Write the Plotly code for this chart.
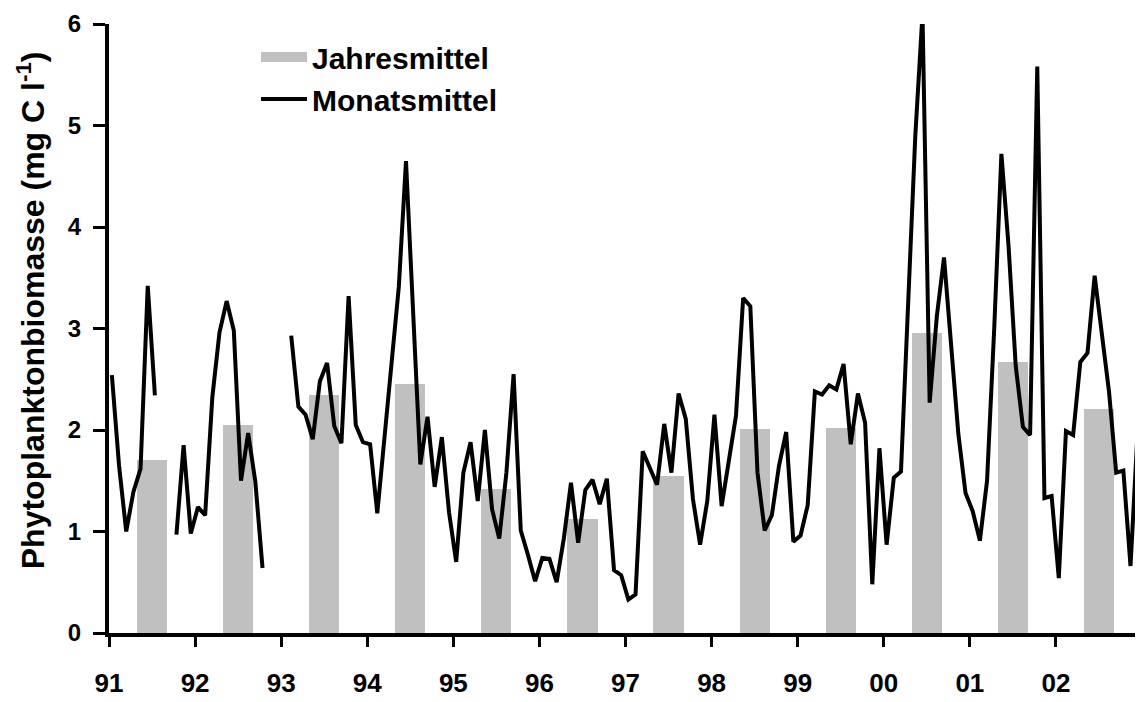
import plotly.graph_objects as go

year_labels = ["91", "92", "93", "94", "95", "96", "97", "98", "99", "00", "01", "02"]
annual_means = [1.70, 2.05, 2.34, 2.45, 1.42, 1.12, 1.55, 2.01, 2.02, 2.96, 2.67, 2.21]

monthly_91 = [2.54, 1.65, 1.00, 1.39, 1.62, 3.42, 2.34, None, None, 0.97, 1.85, 0.98]
monthly_92 = [1.24, 1.16, 2.32, 2.96, 3.27, 2.98, 1.50, 1.97, 1.49, 0.64, None, None]
monthly_93 = [None, 2.93, 2.23, 2.15, 1.91, 2.48, 2.66, 2.04, 1.87, 3.32, 2.05, 1.88]
monthly_94 = [1.86, 1.18, 1.95, 2.70, 3.41, 4.65, 3.10, 1.66, 2.13, 1.44, 1.93, 1.19]
monthly_95 = [0.70, 1.58, 1.88, 1.30, 2.00, 1.22, 0.93, 1.58, 2.55, 1.01, 0.77, 0.51]
monthly_96 = [0.74, 0.73, 0.50, 0.93, 1.48, 0.89, 1.41, 1.51, 1.27, 1.52, 0.62, 0.57]
monthly_97 = [0.33, 0.38, 1.79, 1.63, 1.46, 2.06, 1.58, 2.36, 2.11, 1.32, 0.87, 1.30]
monthly_98 = [2.15, 1.25, 1.69, 2.14, 3.30, 3.22, 1.58, 1.01, 1.16, 1.65, 1.98, 0.90]
monthly_99 = [0.96, 1.26, 2.38, 2.35, 2.44, 2.40, 2.65, 1.86, 2.36, 2.07, 0.48, 1.82]
monthly_00 = [0.87, 1.53, 1.59, 3.30, 4.90, 6.10, 2.27, 3.12, 3.70, 2.83, 1.96, 1.38]
monthly_01 = [1.20, 0.91, 1.50, 3.00, 4.72, 3.81, 2.63, 2.03, 1.95, 5.58, 1.33, 1.35]
monthly_02 = [0.54, 1.99, 1.95, 2.67, 2.76, 3.52, 2.97, 2.38, 1.58, 1.60, 0.66, 2.01]

monthly = (monthly_91 + monthly_92 + monthly_93 + monthly_94 + monthly_95 + monthly_96
           + monthly_97 + monthly_98 + monthly_99 + monthly_00 + monthly_01 + monthly_02)

n_years = len(year_labels)
month_x = [i + 0.4 for i in range(len(monthly))]
bar_x = [12 * k + 6 for k in range(n_years)]

font_family = "Liberation Sans, Arial, sans-serif"
bar_color = "#c0c0c0"

fig = go.Figure()
fig.add_trace(go.Bar(
    x=bar_x, y=annual_means, width=4.2,
    marker=dict(color=bar_color, line=dict(width=0)),
    name="Jahresmittel", showlegend=False,
))
# legend proxy giving the wide rectangular swatch of the original legend
fig.add_trace(go.Scatter(
    x=[None], y=[None], mode="lines",
    line=dict(color=bar_color, width=19),
    name="Jahresmittel",
))
fig.add_trace(go.Scatter(
    x=month_x, y=monthly, mode="lines",
    line=dict(color="black", width=4),
    connectgaps=False,
    name="Monatsmittel",
))

# the page body has an 8px margin, so the figure is sized to fit inside the window
fig.update_layout(
    width=1135, height=694,
    margin=dict(l=101, r=1, t=16, b=69),
    plot_bgcolor="white", paper_bgcolor="white",
    font=dict(family=font_family, size=24, color="black", weight="bold"),
    showlegend=True,
    legend=dict(
        x=0.1423, y=0.9885, xanchor="left", yanchor="top",
        bgcolor="rgba(0,0,0,0)",
        font=dict(family=font_family, size=30, color="black", weight="bold"),
        traceorder="normal",
        itemwidth=46,
    ),
    bargap=0,
)

fig.update_xaxes(
    range=[0, 12 * n_years],
    tickmode="array",
    tickvals=[12 * k for k in range(n_years + 1)],
    ticktext=year_labels + [""],
    ticks="outside", ticklen=10, tickwidth=3, tickcolor="black",
    showline=True, linewidth=4, linecolor="black",
    showgrid=False, zeroline=False,
    tickfont=dict(family=font_family, size=26, color="black", weight="bold"),
    ticklabelstandoff=14,
)
fig.update_yaxes(
    range=[0, 6],
    tickmode="array", tickvals=[0, 1, 2, 3, 4, 5, 6],
    ticks="outside", ticklen=12, tickwidth=3, tickcolor="black",
    showline=True, linewidth=4, linecolor="black",
    showgrid=False, zeroline=False,
    tickfont=dict(family=font_family, size=24, color="black", weight="bold"),
    ticklabelstandoff=7,
)

fig.add_annotation(
    text="Phytoplanktonbiomasse (mg C l<sup>-1</sup>)",
    xref="paper", yref="paper", x=0, y=0.53,
    xanchor="center", yanchor="middle", xshift=-78,
    textangle=-90, showarrow=False,
    font=dict(family=font_family, size=32, color="black", weight="bold"),
)

fig.write_html("out.html")
